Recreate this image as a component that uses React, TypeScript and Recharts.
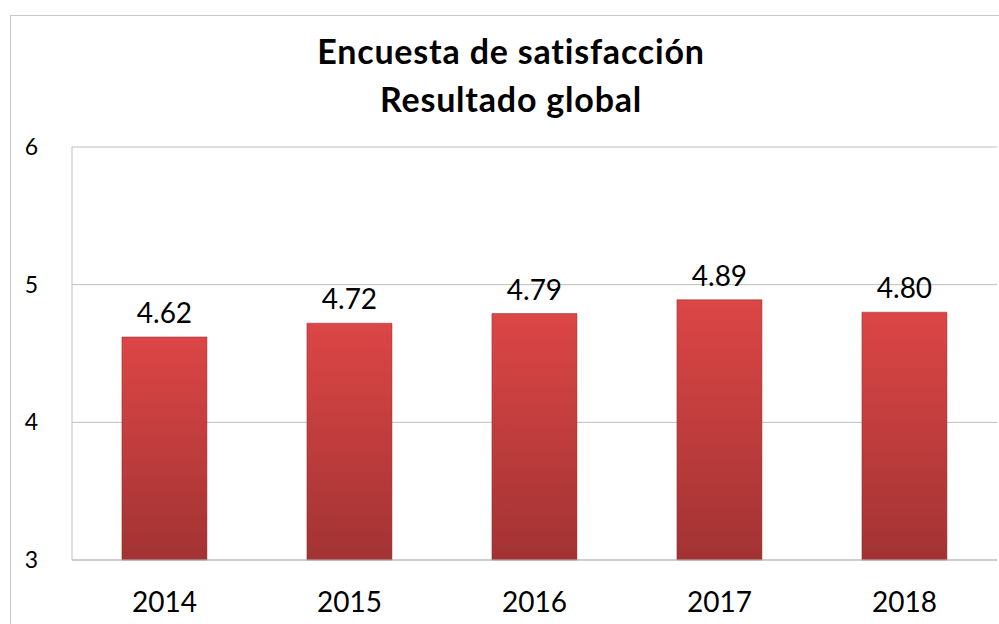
import React from 'react';
import { BarChart, Bar, XAxis, YAxis, CartesianGrid, LabelList } from 'recharts';

const years = ['2014', '2015', '2016', '2017', '2018'];
const scores = [4.62, 4.72, 4.79, 4.89, 4.8];
const yTicks = [3, 4, 5, 6];
const titleLines = ['Encuesta de satisfacción', 'Resultado global'];

const data = years.map((y, i) => ({ year: y, score: scores[i] }));

const FONT = 'Lato, "Open Sans", sans-serif';

export default function App() {
  return (
    <div style={{ position: 'absolute', left: 0, top: 0, width: 999, height: 624, background: '#fff', overflow: 'hidden' }}>
      <div style={{ position: 'absolute', left: 10, top: 15, width: 1100, height: 700, border: '1px solid #c8c8c8', boxSizing: 'border-box' }} />
      <div style={{ position: 'absolute', left: 0, top: 0 }}>
        <BarChart width={999} height={624} data={data} margin={{ top: 147, right: 2, bottom: 0, left: 0 }} barCategoryGap="27%">
          <defs>
            <linearGradient id="barGrad" x1="0" y1="0" x2="0" y2="1">
              <stop offset="0%" stopColor="#dc4646" />
              <stop offset="100%" stopColor="#a23333" />
            </linearGradient>
          </defs>
          <text x={511} y={64} textAnchor="middle" fontFamily={FONT} fontWeight={700} fontSize={34} letterSpacing={0.8} fill="#000">{titleLines[0]}</text>
          <text x={511} y={112} textAnchor="middle" fontFamily={FONT} fontWeight={700} fontSize={34} letterSpacing={0.8} fill="#000">{titleLines[1]}</text>
          <CartesianGrid vertical={false} stroke="#bdbdbd" strokeWidth={1} />
          <XAxis dataKey="year" height={64} axisLine={{ stroke: '#bdbdbd' }} tickLine={false} tickSize={0} tickMargin={32}
            tick={{ fontFamily: FONT, fontSize: 28, fill: '#000' }} />
          <YAxis domain={[3, 6]} ticks={yTicks} width={72} axisLine={{ stroke: '#bdbdbd' }} tickLine={false} tickSize={0} tickMargin={34}
            tick={{ fontFamily: FONT, fontSize: 23, fill: '#000' }} interval={0} />
          <Bar dataKey="score" fill="url(#barGrad)" stroke="#8e2a2a" strokeOpacity={0.5} isAnimationActive={false}>
            <LabelList dataKey="score" position="top" offset={14} formatter={(v: any) => Number(v).toFixed(2)}
              style={{ fontFamily: FONT, fontSize: 28, fill: '#000' }} />
          </Bar>
        </BarChart>
      </div>
    </div>
  );
}
